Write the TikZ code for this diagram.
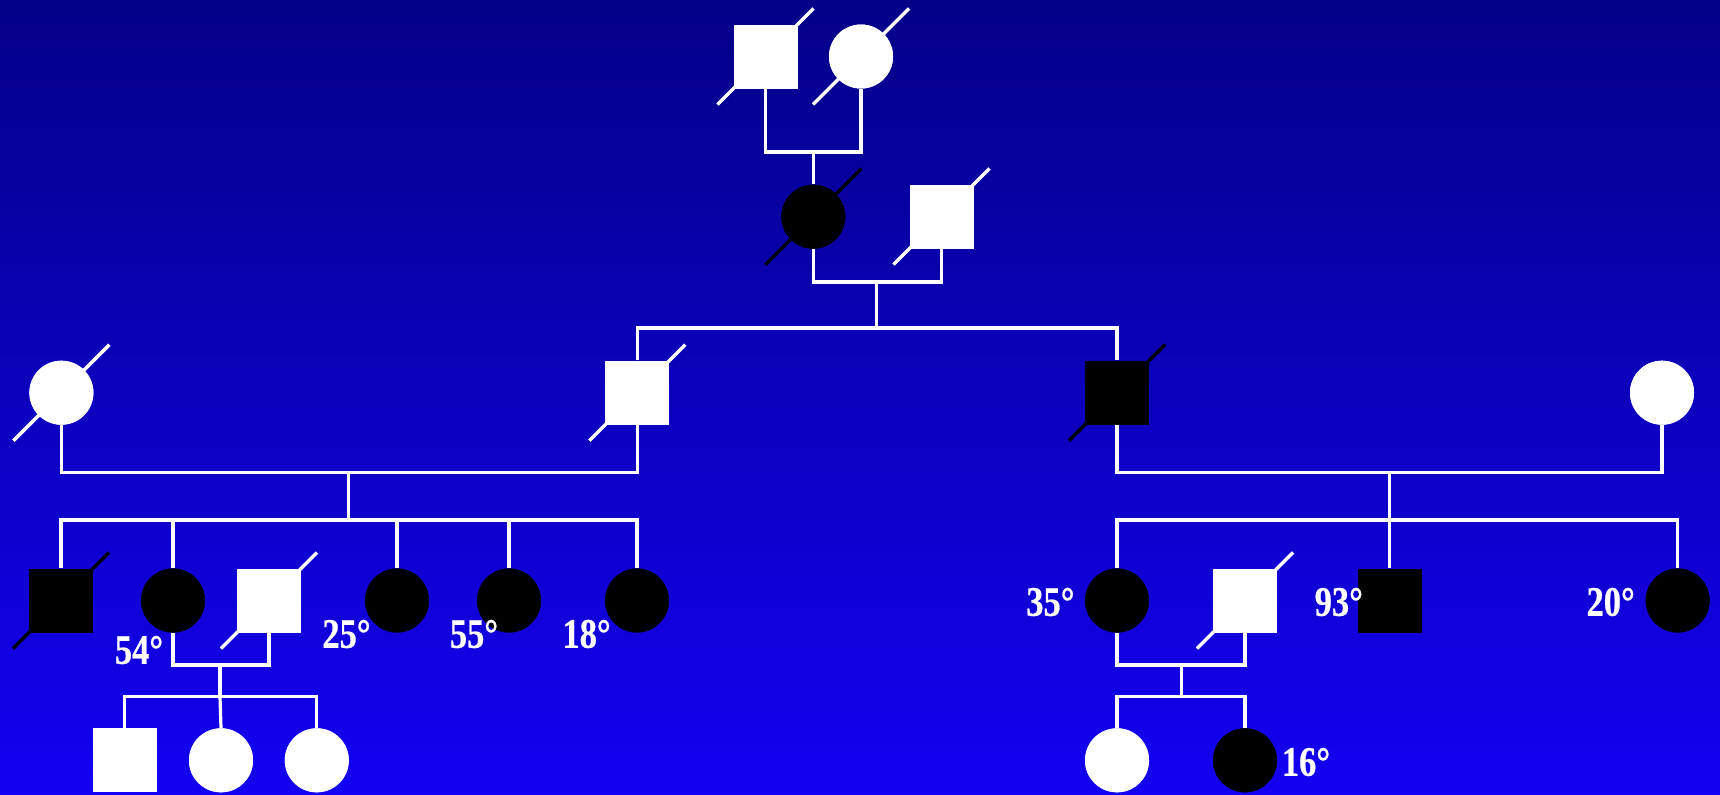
\documentclass[tikz,border=0pt]{standalone}
\usepackage{fontspec}
\newfontfamily\labfont[FakeStretch=0.82,FakeBold=0.6]{Liberation Serif Bold}
\definecolor{bgtop}{RGB}{5,0,136}
\definecolor{bgmid}{RGB}{12,0,205}
\definecolor{bgbot}{RGB}{20,0,242}
\tikzset{
  conn/.style={draw=white, line width=1.6pt},
  slashline/.style={line width=1.75pt},
  male/.style={rectangle, minimum size=32pt, inner sep=0pt},
  female/.style={circle, minimum size=32pt, inner sep=0pt},
  affected/.style={fill=black},
  normal/.style={fill=white},
  lab/.style={text=white, font=\labfont\fontsize{21}{25}\selectfont, inner sep=0pt}
}
\newcommand{\deceased}[2]{\draw[slashline,#2] ([shift={(-48,48)}]#1.center) -- ([shift={(48,-48)}]#1.center);}
\begin{document}
\begin{tikzpicture}[x=0.5pt,y=-0.5pt]
\useasboundingbox (0,0) rectangle (1720,794);
\shade[top color=bgtop, middle color=bgmid, bottom color=bgbot] (0,0) rectangle (1720,794);

% Generation I
\node[male,normal] (I1) at (765.5,56.5) {};
\node[female,normal] (I2) at (861,56.5) {};
% Generation II
\node[female,affected] (II1) at (813.3,216.7) {};
\node[male,normal] (II2) at (941.5,216.5) {};
% Generation III
\node[female,normal] (III1) at (61.4,392.7) {};
\node[male,normal] (III2) at (637.3,392.7) {};
\node[male,affected] (III3) at (1117,392.7) {};
\node[female,normal] (III4) at (1662,392.7) {};
% Generation IV
\node[male,affected] (IV1) at (61,600.5) {};
\node[female,affected] (IV2) at (173,600.5) {};
\node[male,normal] (IV3) at (269,600.5) {};
\node[female,affected] (IV4) at (397,600.5) {};
\node[female,affected] (IV5) at (509,600.5) {};
\node[female,affected] (IV6) at (637,600.5) {};
\node[female,affected] (IV7) at (1117,600.5) {};
\node[male,normal] (IV8) at (1245,600.5) {};
\node[male,affected] (IV9) at (1389.5,600.5) {};
\node[female,affected] (IV10) at (1677.7,600.5) {};
% Generation V
\node[male,normal] (V1) at (124.6,760.3) {};
\node[female,normal] (V2) at (221,760.3) {};
\node[female,normal] (V3) at (316.8,760.3) {};
\node[female,normal] (V4) at (1117,760.3) {};
\node[female,affected] (V5) at (1245,760.3) {};

% coordinates of mating and sibship lines
\coordinate (m1) at (813.3,152);
\coordinate (m2) at (876.7,282);
\coordinate (s2) at (876.7,328);
\coordinate (m3a) at (348.8,472.8);
\coordinate (s3a) at (348.8,520);
\coordinate (m3b) at (1389.5,472.8);
\coordinate (s3b) at (1389.5,520);
\coordinate (m4a) at (220,665);
\coordinate (s4a) at (220,696.7);
\coordinate (m4b) at (1181.4,665);
\coordinate (s4b) at (1181.4,696.5);

% Gen I
\draw[conn] (I1.south) |- (m1) -| (I2.south);
\draw[conn] (m1) -- (II1.north);
% Gen II
\draw[conn] (II1.south) |- (m2) -| (II2.south);
\draw[conn] (m2) -- (s2);
\draw[conn] (III2.north) |- (s2) -| (III3.north);
% Gen III left
\draw[conn] (III1.south) |- (m3a) -| (III2.south);
\draw[conn] (m3a) -- (s3a);
\draw[conn] (IV1.north) |- (s3a) -| (IV6.north);
\draw[conn] (IV2.north) -- (IV2.north |- s3a);
\draw[conn] (IV4.north) -- (IV4.north |- s3a);
\draw[conn] (IV5.north) -- (IV5.north |- s3a);
% Gen III right
\draw[conn] (III3.south) |- (m3b) -| (III4.south);
\draw[conn] (m3b) -- (s3b);
\draw[conn] (IV7.north) |- (s3b) -| (IV10.north);
\draw[conn] (s3b) -- (IV9.north);
% Gen IV left
\draw[conn] (IV2.south) |- (m4a) -| (IV3.south);
\draw[conn] (m4a) -- (s4a);
\draw[conn] (V1.north) |- (s4a) -| (V3.north);
\draw[conn] (s4a) -- (V2.north);
% Gen IV right
\draw[conn] (IV7.south) |- (m4b) -| (IV8.south);
\draw[conn] (m4b) -- (s4b);
\draw[conn] (V4.north) |- (s4b) -| (V5.north);

% deceased slashes
\deceased{I1}{white}
\deceased{I2}{white}
\deceased{II1}{black}
\deceased{II2}{white}
\deceased{III1}{white}
\deceased{III2}{white}
\deceased{III3}{black}
\deceased{IV1}{black}
\deceased{IV3}{white}
\deceased{IV8}{white}

% redraw shapes on top
\foreach \n/\s/\f in {I1/male/white,I2/female/white,II1/female/black,II2/male/white,
  III1/female/white,III2/male/white,III3/male/black,III4/female/white,
  IV1/male/black,IV2/female/black,IV3/male/white,IV4/female/black,IV5/female/black,IV6/female/black,
  IV7/female/black,IV8/male/white,IV9/male/black,IV10/female/black,
  V1/male/white,V2/female/white,V3/female/white,V4/female/white,V5/female/black}
  {\node[\s,fill=\f] at (\n.center) {};}

% ages
\node[lab] (a54) at (139,650) {54°};
\node[lab] (a25) at (346.5,634) {25°};
\node[lab] (a55) at (474,634) {55°};
\node[lab] (a18) at (586.6,634) {18°};
\node[lab] (a35) at (1050.4,602) {35°};
\node[lab] (a93) at (1338.8,602) {93°};
\node[lab] (a20) at (1610.7,602) {20°};
\node[lab] (a16) at (1306,762) {16°};
\end{tikzpicture}
\end{document}
